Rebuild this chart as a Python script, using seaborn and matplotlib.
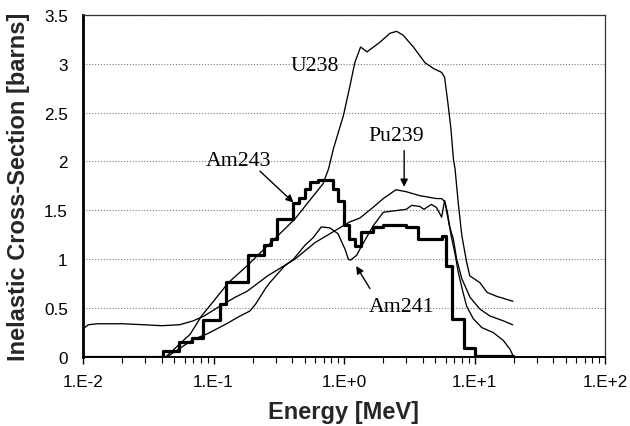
import numpy as np
import pandas as pd
import matplotlib
matplotlib.use("Agg")
import matplotlib.pyplot as plt
from matplotlib.ticker import FixedLocator, FixedFormatter, LogLocator, NullFormatter
import seaborn as sns

# ---------------- data ----------------
u238_E = [0.01, 0.043, 0.05, 0.06, 0.066, 0.081, 0.10, 0.13, 0.18, 0.295, 0.42, 0.56,
          0.69, 0.76, 0.83, 0.99, 1.11, 1.21, 1.34, 1.50, 1.89, 2.25, 2.53, 2.84, 3.4,
          4.17, 4.85, 5.6, 5.9, 6.25, 6.6, 6.9, 7.1, 7.5, 8.0, 8.7, 9.2, 11.0, 12.5,
          14.8, 19.7]
u238_xs = [0.0, 0.0, 0.08, 0.18, 0.23, 0.42, 0.57, 0.76, 0.93, 1.21, 1.41, 1.62,
           1.77, 1.92, 2.13, 2.47, 2.77, 3.01, 3.17, 3.12, 3.22, 3.31, 3.33, 3.29, 3.17,
           3.01, 2.95, 2.91, 2.86, 2.60, 2.33, 2.02, 1.92, 1.58, 1.24, 0.97, 0.83, 0.76, 0.66,
           0.62, 0.57]

pu239_E = [0.01, 0.0105, 0.011, 0.013, 0.02, 0.029, 0.04, 0.055, 0.07, 0.085, 0.106,
           0.146, 0.18, 0.26, 0.42, 0.6, 0.85, 1.1, 1.32, 1.67, 2.0, 2.5, 3.0, 3.8, 5.1,
           5.6, 5.9, 6.0, 6.4, 6.9, 7.3, 8.0, 9.25, 11.0, 13.1, 16.6, 19.6]
pu239_xs = [0.29, 0.31, 0.33, 0.34, 0.34, 0.33, 0.32, 0.33, 0.37, 0.42, 0.50,
            0.61, 0.67, 0.83, 1.00, 1.17, 1.29, 1.38, 1.42, 1.53, 1.62, 1.71, 1.69, 1.65, 1.62,
            1.62, 1.59, 1.55, 1.35, 1.20, 1.00, 0.80, 0.61, 0.49, 0.42, 0.37, 0.33]

am241_E = [0.01, 0.044, 0.05, 0.07, 0.089, 0.126, 0.155, 0.19, 0.21, 0.25, 0.27, 0.35,
           0.41, 0.50, 0.58, 0.67, 0.78, 0.90, 1.02, 1.08, 1.12, 1.25, 1.32, 1.67, 2.0,
           3.0, 3.3, 3.8, 4.1, 4.66, 5.1, 5.6, 5.9, 6.2, 6.6, 7.1, 7.5, 8.1, 8.7, 9.8,
           11.4, 13.9, 16.6, 18.7, 19.8]
am241_xs = [0.0, 0.0, 0.05, 0.18, 0.235, 0.34, 0.41, 0.47, 0.54, 0.70, 0.76, 0.93,
            1.00, 1.14, 1.22, 1.33, 1.32, 1.26, 1.10, 1.00, 0.99, 1.04, 1.10, 1.34, 1.48,
            1.51, 1.55, 1.54, 1.51, 1.56, 1.53, 1.43, 1.60, 1.48, 1.25, 1.05, 0.87, 0.68, 0.52, 0.39,
            0.30, 0.25, 0.17, 0.08, 0.01]

am243_E = [0.01, 0.0412, 0.0545, 0.068, 0.083, 0.112, 0.124, 0.185, 0.245, 0.275, 0.305,
           0.41, 0.45, 0.50, 0.553, 0.63, 0.82, 0.90, 1.0, 1.10, 1.21, 1.36, 1.67, 2.0,
           3.0, 3.7, 5.6, 6.0, 6.7, 8.3, 10.1, 19.8, 20.0]
am243_xs = [0.0, 0.06, 0.15, 0.195, 0.38, 0.54, 0.77, 1.04, 1.145, 1.21, 1.41,
            1.57, 1.63, 1.72, 1.79, 1.81, 1.72, 1.60, 1.35, 1.21, 1.13, 1.28, 1.33, 1.35,
            1.33, 1.21, 1.24, 0.93, 0.39, 0.09, 0.015, 0.0, 0.0]

xtick_values = [0.01, 0.1, 1, 10, 100]
xtick_labels = ["1.E-2", "1.E-1", "1.E+0", "1.E+1", "1.E+2"]
ytick_values = [0, 0.5, 1, 1.5, 2, 2.5, 3, 3.5]
ytick_labels = ["0", "0.5", "1", "1.5", "2", "2.5", "3", "3.5"]

# ---------------- styling ----------------
sns.set_style("white")
plt.rcParams["font.family"] = ["Liberation Sans", "DejaVu Sans"]

df = pd.concat([
    pd.DataFrame({"E": u238_E, "xs": u238_xs, "iso": "U238"}),
    pd.DataFrame({"E": pu239_E, "xs": pu239_xs, "iso": "Pu239"}),
    pd.DataFrame({"E": am241_E, "xs": am241_xs, "iso": "Am241"}),
], ignore_index=True)

fig = plt.figure(figsize=(6.3, 4.27), dpi=100)
ax = fig.add_axes([83 / 630, 1 - 358 / 427, 522 / 630, (358 - 15.7) / 427])

sns.lineplot(data=df, x="E", y="xs", hue="iso", units="iso", estimator=None,
             palette=["black"] * 3, linewidth=0.95, legend=False, ax=ax)
sns.lineplot(x=am243_E, y=am243_xs, estimator=None, color="black",
             linewidth=2.3, drawstyle="steps-post", ax=ax)

ax.set_xscale("log")
ax.set_xlim(0.01, 100)
ax.set_ylim(0, 3.5)

ax.xaxis.set_major_locator(FixedLocator(xtick_values))
ax.xaxis.set_major_formatter(FixedFormatter(xtick_labels))
ax.xaxis.set_minor_locator(LogLocator(base=10, subs=np.arange(2, 10)))
ax.xaxis.set_minor_formatter(NullFormatter())
ax.yaxis.set_major_locator(FixedLocator(ytick_values))
ax.yaxis.set_major_formatter(FixedFormatter(ytick_labels))

ax.tick_params(axis="x", which="major", direction="out", length=5, width=1,
               labelsize=12.3, pad=7, colors="black", bottom=True)
ax.tick_params(axis="x", which="minor", direction="out", length=4, width=0.8,
               bottom=True, colors="black")
ax.tick_params(axis="y", which="major", length=0, labelsize=12.3, pad=11, colors="black")

ax.grid(True, axis="y", which="major", color="#7a7a7a", linestyle=(0, (1, 1.6)), linewidth=0.8)
ax.grid(False, axis="x")

for side, lw, col in [("left", 2.0, "black"), ("bottom", 1.4, "black"),
                      ("top", 0.9, "#333333"), ("right", 0.9, "#333333")]:
    ax.spines[side].set_visible(True)
    ax.spines[side].set_linewidth(lw)
    ax.spines[side].set_color(col)

ax.set_xlabel("Energy [MeV]", fontsize=17, fontweight="bold", labelpad=8)
ax.set_ylabel("Inelastic Cross-Section [barns]", fontsize=17, fontweight="bold")
ax.yaxis.set_label_coords(-0.102, 0.5)

serif = dict(family=["Liberation Serif", "DejaVu Serif"], fontsize=15.7, color="black")
arrow = dict(arrowstyle="-|>", color="black", lw=1.0, mutation_scale=11,
             shrinkA=0, shrinkB=0)

ax.text(0.60, 2.98, "U238", ha="center", va="center", **serif)
ax.text(2.53, 2.26, "Pu239", ha="center", va="center", **serif)
ax.annotate("", xy=(2.89, 1.74), xytext=(2.89, 2.11), arrowprops=arrow)
ax.text(0.155, 2.01, "Am243", ha="center", va="center", **serif)
ax.annotate("", xy=(0.41, 1.58), xytext=(0.227, 1.90), arrowprops=arrow)
ax.text(2.75, 0.52, "Am241", ha="center", va="center", **serif)
ax.annotate("", xy=(1.24, 0.93), xytext=(1.58, 0.70), arrowprops=arrow)

fig.savefig("out.png", dpi=100)
